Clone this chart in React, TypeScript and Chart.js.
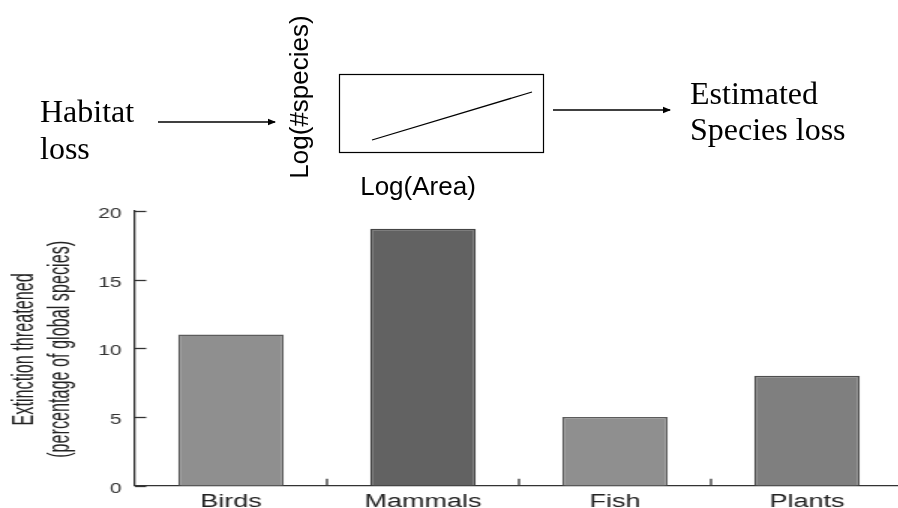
import React, { useEffect, useRef } from "react";
import { Chart, registerables } from "chart.js";

Chart.register(...registerables);

// Bar chart data
const categories = ["Birds", "Mammals", "Fish", "Plants"];
const threatenedPct = [11, 18.7, 5, 8];
const barFills = ["#8f8f8f", "#626262", "#8f8f8f", "#7f7f7f"];
const barEdges = ["#5c5c5c", "#444444", "#5c5c5c", "#4e4e4e"];
const yMin = 0;
const yMax = 20;
const yStep = 5;
const yTitleLines = ["Extinction threatened", "(percentage of global species)"];

// The chart is laid out at 2/3 width and widened by CSS, which gives the
// squat, wide lettering of the printed figure.
const STRETCH = 1.5;
const CANVAS_W = 606;
const CANVAS_H = 508;

const SANS = "'Liberation Sans', Arial, Helvetica, sans-serif";
const SERIF = "'Liberation Serif', 'Times New Roman', serif";

// Short tick marks pointing into the plot: value ticks on the y axis and
// category separators on the x axis.
const inwardTicks = {
  id: "inwardTicks",
  afterDatasetsDraw(chart: any) {
    const { ctx, chartArea, scales } = chart;
    const x = scales.x;
    const y = scales.y;
    ctx.save();
    ctx.strokeStyle = "#333";
    ctx.lineWidth = 1.3;
    y.ticks.forEach((_t: any, i: number) => {
      const py = Math.round(y.getPixelForTick(i)) + 0.5;
      ctx.beginPath();
      ctx.moveTo(chartArea.left, py);
      ctx.lineTo(chartArea.left + 7.5, py);
      ctx.stroke();
    });
    for (let i = 1; i <= categories.length; i++) {
      const px =
        i < categories.length
          ? (x.getPixelForValue(i - 1) + x.getPixelForValue(i)) / 2
          : chartArea.right;
      ctx.beginPath();
      ctx.moveTo(px, chartArea.bottom);
      ctx.lineTo(px, chartArea.bottom - 7);
      ctx.stroke();
    }
    ctx.restore();
  },
};

// Two-line rotated y-axis title set in a condensed face (the sans face is
// squeezed along the reading direction).
const condensedYTitle = {
  id: "condensedYTitle",
  afterDraw(chart: any) {
    const { ctx, chartArea } = chart;
    const cy = (chartArea.top + chartArea.bottom) / 2 + 1;
    const firstLineX = 16.3;
    const lineGap = 24.2;
    ctx.save();
    ctx.fillStyle = "#222";
    ctx.font = `20px ${SANS}`;
    ctx.textAlign = "center";
    ctx.textBaseline = "middle";
    yTitleLines.forEach((line, i) => {
      ctx.save();
      ctx.translate(firstLineX + i * lineGap, cy);
      ctx.rotate(-Math.PI / 2);
      ctx.scale(0.81, 1);
      ctx.fillText(line, 0, 0);
      ctx.restore();
    });
    ctx.restore();
  },
};

function SpeciesAreaDiagram() {
  return (
    <svg
      width={898}
      height={205}
      style={{ position: "absolute", left: 0, top: 0 }}
    >
      <defs>
        <marker
          id="head"
          markerWidth="8"
          markerHeight="8"
          refX="7"
          refY="4"
          orient="auto"
          markerUnits="userSpaceOnUse"
        >
          <path d="M0,0.8 L8,4 L0,7.2 Z" fill="#000" />
        </marker>
      </defs>
      <g fontFamily={SERIF} fontSize={32} fill="#000">
        <text x={40} y={122}>Habitat</text>
        <text x={40} y={159}>loss</text>
        <text x={690} y={104}>Estimated</text>
        <text x={690} y={140}>Species loss</text>
      </g>
      <line x1={158} y1={122} x2={275} y2={122} stroke="#000" strokeWidth={1.3} markerEnd="url(#head)" />
      <line x1={553} y1={110} x2={670} y2={110} stroke="#000" strokeWidth={1.3} markerEnd="url(#head)" />
      <rect x={339.5} y={74.5} width={204} height={78} fill="none" stroke="#000" strokeWidth={1.2} />
      <line x1={372} y1={140} x2={532} y2={92} stroke="#000" strokeWidth={1.2} />
      <g fontFamily={SANS} fontSize={26} fill="#000">
        <text x={418} y={195} textAnchor="middle">Log(Area)</text>
        <text
          x={0}
          y={0}
          textAnchor="middle"
          transform="translate(308 97) rotate(-90)"
        >
          Log(#species)
        </text>
      </g>
    </svg>
  );
}

export default function App() {
  const canvasRef = useRef<HTMLCanvasElement | null>(null);

  useEffect(() => {
    const canvas = canvasRef.current;
    if (!canvas) return;
    const chart = new Chart(canvas, {
      type: "bar",
      data: {
        labels: categories,
        datasets: [
          {
            data: threatenedPct,
            backgroundColor: barFills,
            borderColor: barEdges,
            borderWidth: 1.5,
            barPercentage: 0.55,
            categoryPercentage: 1,
          },
        ],
      },
      plugins: [inwardTicks, condensedYTitle],
      options: {
        responsive: false,
        animation: false,
        devicePixelRatio: 1,
        layout: { padding: { top: 211, right: 4, left: 0, bottom: 0 } },
        plugins: {
          legend: { display: false },
          tooltip: { enabled: false },
        },
        scales: {
          x: {
            grid: { display: false, drawTicks: false },
            border: { display: true, color: "#333", width: 1.3 },
            ticks: {
              padding: 6,
              color: "#222",
              font: { family: SANS, size: 18 },
              maxRotation: 0,
            },
            afterFit: (s: any) => {
              s.height = 22.3;
            },
          },
          y: {
            min: yMin,
            max: yMax,
            grid: { display: false, drawTicks: false },
            border: { display: true, color: "#333", width: 1.3 },
            ticks: {
              stepSize: yStep,
              padding: 9,
              labelOffset: 3,
              color: "#333",
              font: { family: SANS, size: 14 },
            },
            title: { display: false },
            afterFit: (s: any) => {
              s.width = 90;
            },
          },
        },
      },
    });
    return () => chart.destroy();
  }, []);

  return (
    <div
      style={{
        position: "absolute",
        left: 0,
        top: 0,
        width: 898,
        height: 508,
        overflow: "hidden",
        background: "#fff",
      }}
    >
      <canvas
        ref={canvasRef}
        width={CANVAS_W}
        height={CANVAS_H}
        style={{
          position: "absolute",
          left: 0,
          top: 0,
          width: CANVAS_W * STRETCH,
          height: CANVAS_H,
        }}
      />
      <SpeciesAreaDiagram />
    </div>
  );
}
